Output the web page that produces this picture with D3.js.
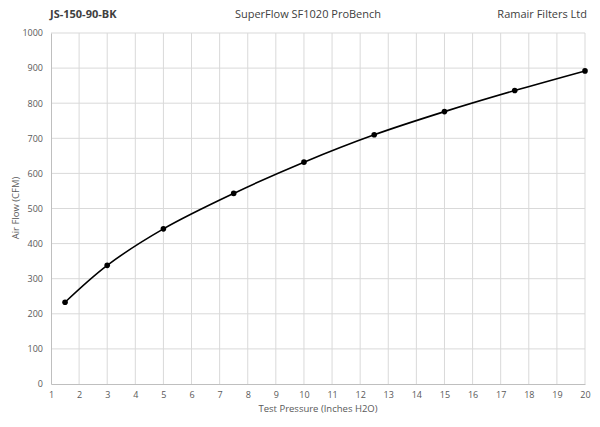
<!DOCTYPE html>
<html><head><meta charset="utf-8">
<script src="https://cdn.jsdelivr.net/npm/d3@7"></script>
<style>body{margin:0;background:#fff}text{font-family:"Open Sans",Calibri,sans-serif}</style>
</head><body><svg id="c" width="600" height="427"></svg>
<script>
var pressure = [1.5, 3, 5, 7.5, 10, 12.5, 15, 17.5, 20];
var flow = [233, 338, 442, 543, 632, 710, 776, 836, 892];
var xTicks = d3.range(1, 21);
var yTicks = d3.range(0, 1001, 100);

var svg = d3.select("#c");
var x = d3.scaleLinear().domain([1, 20]).range([51, 585]);
var y = d3.scaleLinear().domain([0, 1000]).range([384, 33]);

svg.append("g").selectAll("line").data(yTicks.slice(1)).join("line")
    .attr("x1", 51).attr("x2", 585).attr("y1", y).attr("y2", y)
    .attr("stroke", "#d9d9d9");
svg.append("g").selectAll("line").data(xTicks.slice(1)).join("line")
    .attr("y1", 33).attr("y2", 384).attr("x1", x).attr("x2", x)
    .attr("stroke", "#d9d9d9");

var xa = svg.append("g").attr("transform", "translate(0,384)")
    .call(d3.axisBottom(x).tickValues(xTicks).tickSize(0).tickPadding(8));
var ya = svg.append("g").attr("transform", "translate(51,0)")
    .call(d3.axisLeft(y).tickValues(yTicks).tickFormat(d3.format("d")).tickSize(0).tickPadding(8));
[xa, ya].forEach(function(a) {
    a.select(".domain").attr("stroke", "#bfbfbf");
    a.selectAll("text").attr("fill", "#595959").attr("font-size", 9);
});

svg.append("path").datum(pressure.map(function(p, i) { return [p, flow[i]]; }))
    .attr("fill", "none").attr("stroke", "#000").attr("stroke-width", 1.6)
    .attr("d", d3.line().x(function(d) { return x(d[0]); }).y(function(d) { return y(d[1]); }).curve(d3.curveCatmullRom));
svg.append("g").selectAll("circle").data(pressure).join("circle")
    .attr("cx", function(d) { return x(d); })
    .attr("cy", function(d, i) { return y(flow[i]); })
    .attr("r", 2.8).attr("fill", "#000");

svg.append("text").attr("x", 50).attr("y", 18).attr("font-size", 11).attr("font-weight", "bold").attr("fill", "#404040").text("JS-150-90-BK");
svg.append("text").attr("x", 308).attr("y", 18).attr("text-anchor", "middle").attr("font-size", 11).attr("fill", "#404040").text("SuperFlow SF1020 ProBench");
svg.append("text").attr("x", 587).attr("y", 18).attr("text-anchor", "end").attr("font-size", 11).attr("fill", "#404040").text("Ramair Filters Ltd");
svg.append("text").attr("x", 318).attr("y", 412).attr("text-anchor", "middle").attr("font-size", 9.5).attr("fill", "#595959").text("Test Pressure (Inches H2O)");
svg.append("text").attr("transform", "translate(19,208) rotate(-90)").attr("text-anchor", "middle").attr("font-size", 9.5).attr("fill", "#595959").text("Air Flow (CFM)");
</script></body></html>
